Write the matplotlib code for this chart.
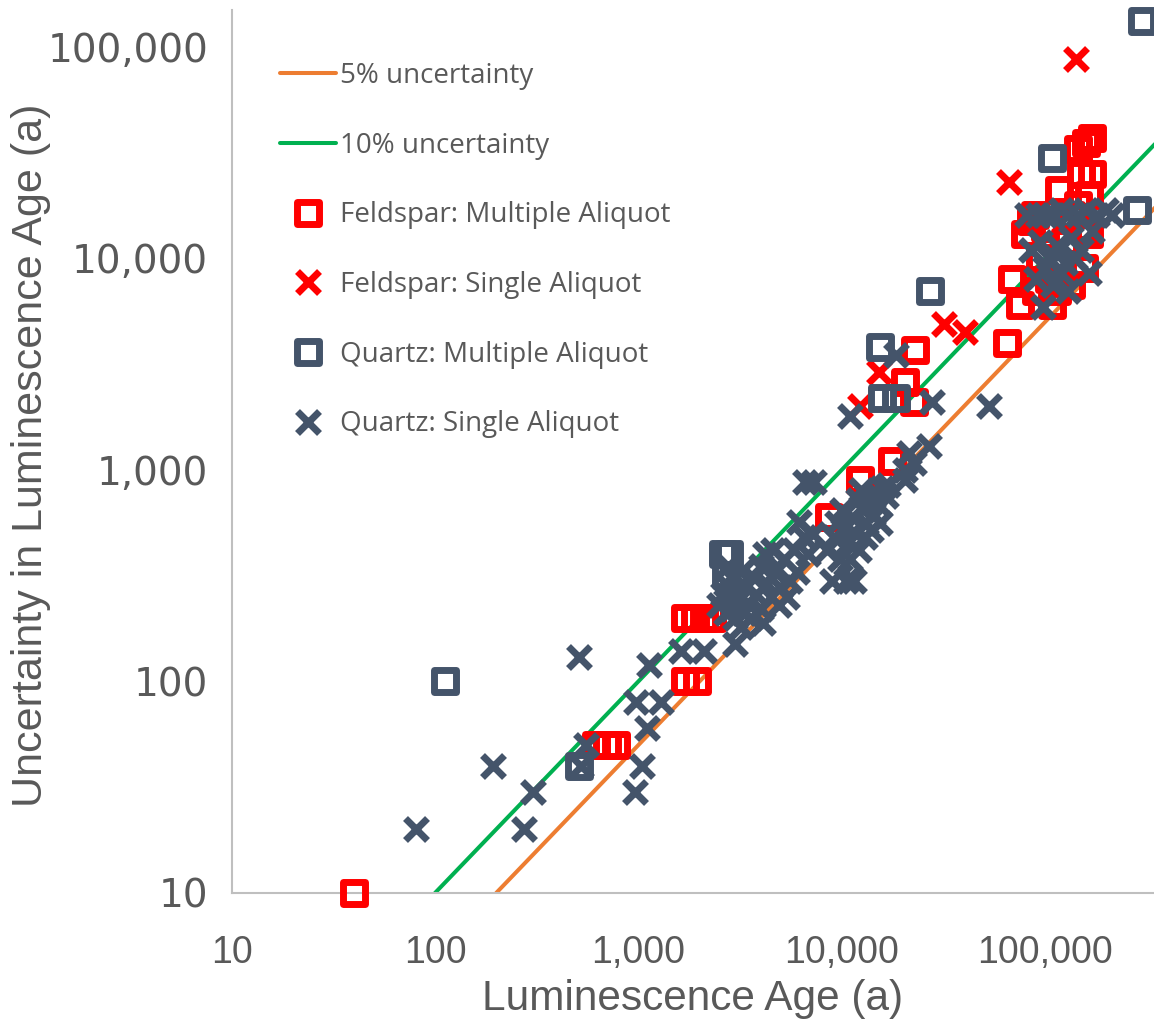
import matplotlib
matplotlib.use('Agg', force=True)

import matplotlib.pyplot as plt
from matplotlib.markers import MarkerStyle
from matplotlib.ticker import FixedLocator, FuncFormatter, NullLocator

# reference lines (age, uncertainty)
five_pct_age = [200, 1000000]
five_pct_unc = [10, 50000]
ten_pct_age = [100, 1000000]
ten_pct_unc = [10, 100000]

# feldspar, multiple aliquot
fma_age = [40, 620, 700, 780, 1700, 1950, 1700, 1900, 2100, 2300, 8700, 12300,
           17600, 20400, 22600, 22900, 65000, 69000, 75000, 108000, 89000, 117000,
           150000, 170000, 160000, 170000, 146000, 80000, 95000, 100000, 105000,
           125000, 135000, 145000, 155000, 160000, 115000, 90000, 85000, 165000,
           135000, 164000]
fma_unc = [10, 50, 50, 50, 100, 100, 200, 200, 200, 200, 600, 900,
           1100, 2600, 2100, 3700, 4000, 8000, 6000, 6000, 16000, 21000,
           25000, 25000, 35000, 37000, 33000, 13000, 10000, 14000, 8000,
           12000, 16000, 18000, 9000, 14000, 7000, 7000, 15000, 20000,
           7500, 13000]

# feldspar, single aliquot
fsa_age = [12300, 15200, 31800, 40300, 66300, 143000]
fsa_unc = [2000, 2900, 4900, 4500, 23000, 88000]

# quartz, multiple aliquot
qma_age = [112, 509, 2600, 2800, 2700, 15400, 15800, 18600, 27100, 108000, 283000, 299000]
qma_unc = [100, 40, 400, 400, 320, 3800, 2200, 2200, 7000, 30000, 17000, 133000]

# quartz, single aliquot
qsa_age = [81, 192, 273, 305, 520, 551, 509, 970, 1100, 1040, 960, 1125, 1300,
           1630, 2100, 2980,
           2500, 2600, 2700, 2700, 2750, 2800, 2900, 2900, 3000, 3000, 3100, 3200,
           3300, 3400, 3500, 3600, 3700, 3800, 4000, 4000, 4200, 4300, 4500, 4600,
           4700, 4900, 5000, 5200, 5400, 5600, 5800, 6000, 6150, 6500, 6600, 7300,
           6800, 7200, 3200, 4100,
           9000, 10500, 11500, 8500, 9200, 9800, 10200, 10800, 11200, 11800, 12200,
           12800, 13200, 13800, 14200, 14800, 15200, 15800, 16500, 10000, 11000,
           12000, 13000, 14000, 9500, 17000, 15500, 12500,
           11000, 27700, 52800, 26800, 21400, 20400, 22600, 20400, 18600,
           82000, 92000, 100000, 110000, 120000, 130000, 145000, 160000, 180000,
           200000, 214000, 85000, 95000, 105000, 115000, 125000, 135000, 150000,
           164000, 98000, 90000, 110000, 120000, 130000, 100000, 140000, 170000]
qsa_unc = [20, 40, 20, 30, 40, 50, 130, 80, 60, 40, 30, 120, 80,
           140, 140, 150,
           230, 260, 210, 290, 350, 250, 220, 310, 200, 270, 240, 330,
           210, 280, 230, 200, 310, 260, 220, 350, 400, 290, 250, 420,
           330, 230, 280, 380, 250, 300, 420, 330, 570, 480, 880, 880,
           400, 500, 180, 190,
           300, 300, 300, 420, 480, 380, 520, 450, 600, 500, 420,
           650, 560, 700, 620, 780, 680, 820, 750, 650, 380,
           720, 480, 520, 560, 850, 560, 800,
           1800, 2100, 2000, 1300, 1200, 1000, 1080, 900, 3500,
           16000, 16000, 16000, 16000, 17000, 16000, 16000, 17000, 16000,
           17000, 16000, 11000, 12000, 10000, 11500, 9500, 12500, 11000,
           8500, 5900, 8000, 7500, 8500, 7000, 9000, 10000, 13500]

tick_vals = [10, 100, 1000, 10000, 100000]

RED = '#FF0000'
SLATE = '#44546A'
TEXT = '#595959'
AXIS = '#BFBFBF'

fig = plt.figure(figsize=(11.54, 10.21), dpi=100)
ax = fig.add_axes([0.2008, 0.1254, 0.7992, 0.8746])
ax.set_xscale('log')
ax.set_yscale('log')

xmax = 10 ** (1 + 922.3 / 203.3)
ymax = 10 ** (1 + 893 / 211.5)
ax.set_xlim(10, xmax)
ax.set_ylim(10, ymax)

ax.plot(five_pct_age, five_pct_unc, color='#ED7D31', lw=2.9, zorder=2,
        solid_capstyle='round', label='5% uncertainty')
ax.plot(ten_pct_age, ten_pct_unc, color='#00B050', lw=2.9, zorder=2,
        solid_capstyle='round', label='10% uncertainty')

sq = MarkerStyle('s', joinstyle='round')
ex = MarkerStyle('x', capstyle='butt')
sq_kw = dict(ls='none', marker=sq, ms=15.5, mew=5.0, mfc='none', clip_on=False)
ex_kw = dict(ls='none', marker=ex, ms=16.0, mew=5.0, clip_on=False)

ax.plot(fma_age, fma_unc, mec=RED, zorder=3, label='Feldspar: Multiple Aliquot', **sq_kw)
ax.plot(fsa_age, fsa_unc, mec=RED, zorder=4, label='Feldspar: Single Aliquot', **ex_kw)
ax.plot(qma_age, qma_unc, mec=SLATE, zorder=5, label='Quartz: Multiple Aliquot', **sq_kw)
ax.plot(qsa_age, qsa_unc, mec=SLATE, zorder=6, label='Quartz: Single Aliquot', **ex_kw)

# axes styling
for side in ('top', 'right'):
    ax.spines[side].set_visible(False)
for side in ('left', 'bottom'):
    ax.spines[side].set_color(AXIS)
    ax.spines[side].set_linewidth(1.5)
ax.spines['left'].set_bounds(10, 10 ** (1 + 883 / 211.5))

fmt = FuncFormatter(lambda v, p: f'{v:,.0f}')
for axis in (ax.xaxis, ax.yaxis):
    axis.set_major_locator(FixedLocator(tick_vals))
    axis.set_minor_locator(NullLocator())
    axis.set_major_formatter(fmt)
ax.tick_params(axis='x', length=0, pad=30, labelsize=27, labelcolor=TEXT)
ax.tick_params(axis='y', length=0, pad=17, labelsize=28, labelcolor=TEXT)
for lab in ax.get_xticklabels():
    lab.set_fontfamily('Liberation Sans')
for lab in ax.get_yticklabels():
    lab.set_fontfamily('DejaVu Sans')

ax.set_xlabel('Luminescence Age (a)', fontsize=30.5, color=TEXT,
              family='Liberation Sans', labelpad=6)
ax.set_ylabel('Uncertainty in Luminescence Age (a)', fontsize=31, color=TEXT,
              family='Liberation Sans')
ax.yaxis.set_label_coords(-0.196, 0.49)

leg = ax.legend(loc='upper left', bbox_to_anchor=(280 / 1154, 1 - 62 / 1021),
                bbox_transform=fig.transFigure, frameon=False, borderpad=0,
                borderaxespad=0, handlelength=2.0, handletextpad=0.15,
                labelspacing=1.5, prop={'family': 'Open Sans', 'size': 20})
for t in leg.get_texts():
    t.set_color(TEXT)

fig.savefig('out.png', dpi=100)
